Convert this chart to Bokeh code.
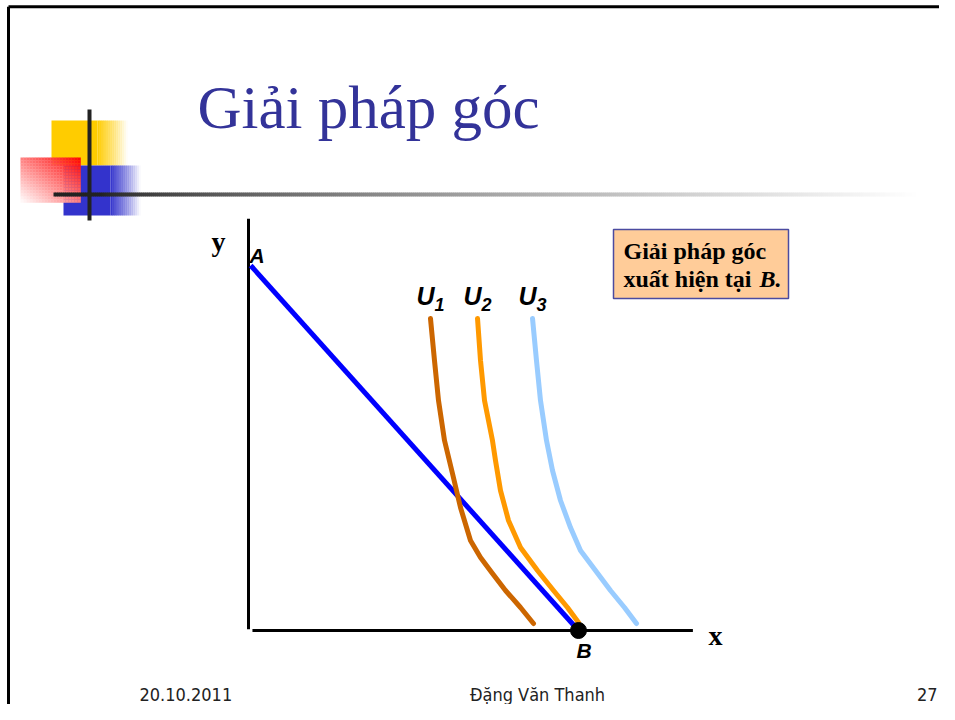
from bokeh.plotting import figure
from bokeh.models import Range1d
from bokeh.core.properties import value
from bokeh.embed import file_html
from bokeh.resources import INLINE

# ---------------- data (chart units) ----------------
budget_x = [0.05, 7.5]          # A -> B
budget_y = [9.0, 0.0]

u1_x = [4.136, 4.227, 4.318, 4.455, 4.636, 4.818, 5.045, 5.273, 5.545, 5.841, 6.182, 6.477]
u1_y = [7.692, 6.657, 5.671, 4.684, 3.871, 3.033, 2.219, 1.800, 1.405, 0.986, 0.567, 0.173]

u2_x = [5.205, 5.273, 5.364, 5.545, 5.614, 5.727, 5.909, 6.182, 6.568, 6.932, 7.250, 7.500]
u2_y = [7.692, 6.657, 5.671, 4.684, 4.191, 3.452, 2.712, 2.046, 1.479, 0.986, 0.567, 0.197]

u3_x = [6.455, 6.545, 6.636, 6.773, 6.909, 7.091, 7.318, 7.545, 7.886, 8.227, 8.545, 8.818]
u3_y = [7.692, 6.657, 5.671, 4.684, 3.945, 3.205, 2.539, 1.972, 1.479, 0.986, 0.567, 0.173]

corner_x = [7.5]
corner_y = [0.0]

x_axis_end = 10.1
y_axis_end = 10.15

curve_labels = ["U", "U", "U"]
curve_subs = ["1", "2", "3"]
curve_colors = ["#CC6600", "#FF9900", "#99CCFF"]

title_text = "Giải pháp góc"
note_line1 = "Giải pháp góc"
note_line2 = "xuất hiện tại"
note_b = "B."
footer_left = "20.10.2011"
footer_mid = "Đặng Văn Thanh"
footer_right = "27"

# ---------------- layout helpers (picture pixels -> chart units) ----------------
W, H = 939, 704
XS, YS = 44.0, 40.56
OX, OY = 248.0, 630.0
MID = 0.34   # baseline -> middle offset (fraction of font size)


def X(px):
    return (px - OX) / XS


def Y(py):
    return (OY - py) / YS


p = figure(width=W, height=H,
           x_range=Range1d(X(0), X(W)), y_range=Range1d(Y(H), Y(0)),
           output_backend="svg", toolbar_location=None, min_border=0)
p.axis.visible = False
p.grid.visible = False
p.outline_line_color = None
p.background_fill_color = "white"
p.border_fill_color = "white"


def txt(px, base_py, s, font, size, style="normal", color="black", align="left"):
    p.text(x=[X(px)], y=[Y(base_py - MID * size)], text=[s], text_font=value(font),
           text_font_style=style, text_font_size=value("%dpx" % size), text_color=color,
           text_baseline="middle", text_align=align)


# ---------------- slide frame ----------------
p.segment(x0=[X(8)], y0=[Y(6.3)], x1=[X(W)], y1=[Y(6.3)], line_color="black", line_width=3)
p.segment(x0=[X(8)], y0=[Y(6.3)], x1=[X(8)], y1=[Y(H)], line_color="black", line_width=3)

# ---------------- decoration squares ----------------
n = 15
p.quad(left=[X(51)], right=[X(97)], top=[Y(120)], bottom=[Y(165)], fill_color="#FFCC00", line_color=None)
p.quad(left=[X(97 + 2 * i) for i in range(n)], right=[X(99.3 + 2 * i) for i in range(n)],
       top=[Y(120)] * n, bottom=[Y(165)] * n, fill_color="#FFCC00",
       fill_alpha=[1 - (i + 0.5) / n for i in range(n)], line_color=None)
p.quad(left=[X(63)], right=[X(110)], top=[Y(165)], bottom=[Y(215)], fill_color="#3333CC", line_color=None)
p.quad(left=[X(110 + 2 * i) for i in range(n)], right=[X(112.3 + 2 * i) for i in range(n)],
       top=[Y(165)] * n, bottom=[Y(215)] * n, fill_color="#3333CC",
       fill_alpha=[1 - (i + 0.5) / n for i in range(n)], line_color=None)
rl, rr, rt, rb, rc = [], [], [], [], []
cs = 3
for ix in range(20):
    for iy in range(15):
        x0 = 20 + ix * cs
        y0 = 157 + iy * cs
        t = ((x0 + 1.5 - 20) / 60 + (202 - (y0 + 1.5)) / 45) / 2
        g = max(0, min(255, int(255 * (1 - t))))
        rl.append(X(x0)); rr.append(X(x0 + cs + 0.3))
        rt.append(Y(y0)); rb.append(Y(y0 + cs + 0.3))
        rc.append("#%02X%02X%02X" % (255, g, g))
p.quad(left=rl, right=rr, top=rt, bottom=rb, fill_color=rc, line_color=None)

gx0, gx1, gcol = [], [], []
xx = 53
while xx < 915:
    t = max(0.0, (xx - 100) / 815)
    v = min(255, int(34 + 221 * t ** 0.7))
    gx0.append(X(xx)); gx1.append(X(xx + 2.5))
    gcol.append("#%02X%02X%02X" % (v, v, v))
    xx += 2
p.segment(x0=gx0, y0=[Y(194)] * len(gx0), x1=gx1, y1=[Y(194)] * len(gx0), line_color=gcol, line_width=4)
p.segment(x0=[X(89)], y0=[Y(109)], x1=[X(89)], y1=[Y(220)], line_color="#222222", line_width=4)

# ---------------- title ----------------
txt(197, 128, title_text, "Liberation Serif", 61, color="#333399")

# ---------------- chart axes ----------------
p.segment(x0=[0], y0=[0.03], x1=[0], y1=[y_axis_end], line_color="black", line_width=3)
p.segment(x0=[0.09], y0=[0], x1=[x_axis_end], y1=[0], line_color="black", line_width=3)
txt(211, 251, "y", "Liberation Serif", 28, style="bold")
txt(708, 645, "x", "Liberation Serif", 28, style="bold")

# ---------------- budget line and indifference curves ----------------
p.line(budget_x, budget_y, line_color="#0000FF", line_width=5)
for cx, cy, col in [(u1_x, u1_y, curve_colors[0]), (u2_x, u2_y, curve_colors[1]), (u3_x, u3_y, curve_colors[2])]:
    p.line(cx, cy, line_color=col, line_width=5, line_cap="round", line_join="round")
p.scatter(corner_x, corner_y, size=16, fill_color="black", line_color="black")

lab_font = value("Liberation Sans")
p.text(x=[X(249)], y=[Y(262 - MID * 21)], text=["A"], text_font=lab_font, text_font_style="bold italic",
       text_font_size=value("21px"), text_color="black", text_baseline="middle")
p.text(x=[X(576)], y=[Y(657 - MID * 21)], text=["B"], text_font=lab_font, text_font_style="bold italic",
       text_font_size=value("21px"), text_color="black", text_baseline="middle")
p.text(x=[c - X(430) + X(416) for c in [u1_x[0], u2_x[0], u3_x[0]]], y=[Y(304 - MID * 25)] * 3,
       text=curve_labels, text_font=lab_font, text_font_style="bold italic", text_font_size=value("25px"),
       text_color="black", text_baseline="middle")
p.text(x=[c - X(430) + X(434) for c in [u1_x[0], u2_x[0], u3_x[0]]], y=[Y(310 - MID * 18)] * 3,
       text=curve_subs, text_font=lab_font, text_font_style="bold italic", text_font_size=value("18px"),
       text_color="black", text_baseline="middle")

# ---------------- note box ----------------
p.quad(left=[X(613)], right=[X(788)], top=[Y(229)], bottom=[Y(298)], fill_color="#FFCC99",
       line_color="#4B4BA0", line_width=1.5)
txt(623, 259, note_line1, "Liberation Serif", 24, style="bold")
txt(623, 287, note_line2, "Liberation Serif", 24, style="bold")
txt(759, 287, note_b, "Liberation Serif", 24, style="bold italic")

# ---------------- footer ----------------
txt(139, 700, footer_left, "DejaVu Sans Condensed", 18, color="#222222")
txt(537, 700, footer_mid, "DejaVu Sans Condensed", 18, color="#222222", align="center")
txt(937, 700, footer_right, "DejaVu Sans Condensed", 18, color="#222222", align="right")

open("out.html", "w").write(file_html(p, INLINE))
